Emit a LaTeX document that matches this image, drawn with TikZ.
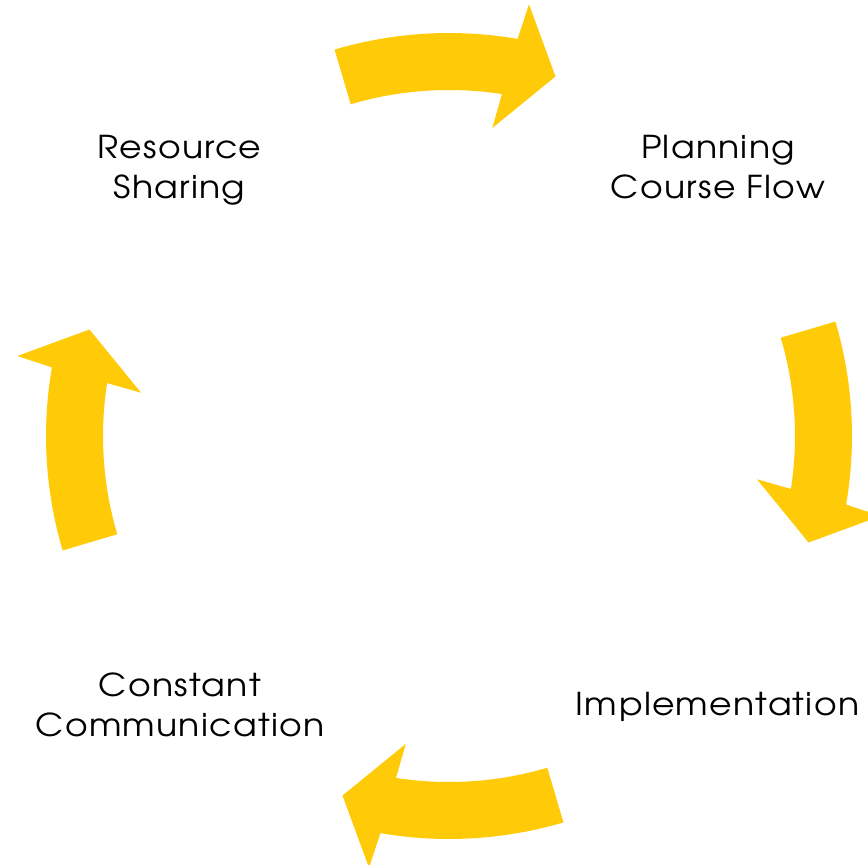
\documentclass[tikz,border=0pt]{standalone}
\usepackage{fontspec}
\setmainfont{TeX Gyre Adventor}[FakeStretch=1.1, LetterSpace=4]
\definecolor{cycleyellow}{RGB}{255,202,8}
\tikzset{
  cyclearrow/.style={fill=cycleyellow, draw=none},
  stagelabel/.style={align=center, font=\fontsize{31.5}{40}\selectfont, text=black, inner sep=0pt, anchor=base},
}
\begin{document}
\begin{tikzpicture}[x=1pt, y=1pt]
  \useasboundingbox (0,0) rectangle (868,-865);
  \clip (0,0) rectangle (868,-865);

  % four curved block arrows on a ring, running clockwise
  \foreach \a in {90,0,-90,180} {
    \fill[cyclearrow, shift={(449,-436)}]
      ({\a+16.5}:403) arc[start angle={\a+16.5}, end angle={\a-9.8}, radius=403]
      -- ({\a-10.5}:439) -- ({\a-16.5}:375) -- ({\a-8}:311) -- ({\a-8.8}:346)
      arc[start angle={\a-8.8}, end angle={\a+16.5}, radius=346] -- cycle;
  }

  % stage labels (base anchor sits on the last line)
  \node[stagelabel] (sharing)   at (179.5,-198) {Resource\\Sharing};
  \node[stagelabel] (planning)  at (718,-198)   {Planning\\Course Flow};
  \node[stagelabel] (implement) at (717.5,-715) {Implementation};
  \node[stagelabel] (communic)  at (180,-736)   {Constant\\Communication};
\end{tikzpicture}
\end{document}
